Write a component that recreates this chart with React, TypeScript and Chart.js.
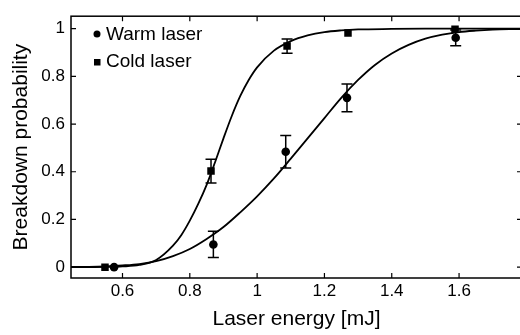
import { useEffect, useRef } from "react";
import { Chart, registerables } from "chart.js";

Chart.register(...registerables);

// Measured data points
const warmEnergy = [0.575, 0.87, 1.085, 1.267, 1.59];
const warmProb = [0, 0.095, 0.484, 0.71, 0.962];
const warmErr = [0, 0.055, 0.068, 0.058, 0.033];

const coldEnergy = [0.548, 0.863, 1.089, 1.27, 1.588];
const coldProb = [0, 0.403, 0.927, 0.982, 0.998];
const coldErr = [0, 0.05, 0.03, 0, 0];

// Fitted curves
const warmFitEnergy = [0.447, 0.5, 0.55, 0.6, 0.65, 0.7, 0.75, 0.8, 0.85, 0.9, 0.95, 1.0, 1.05, 1.1, 1.15, 1.2, 1.25, 1.3, 1.35, 1.4, 1.45, 1.5, 1.55, 1.6, 1.65, 1.7, 1.75, 1.8];
const warmFitProb = [0.0005, 0.001, 0.003, 0.007, 0.013, 0.025, 0.046, 0.076, 0.118, 0.168, 0.23, 0.297, 0.372, 0.455, 0.54, 0.625, 0.71, 0.785, 0.848, 0.896, 0.932, 0.958, 0.975, 0.986, 0.992, 0.996, 0.998, 0.999];

const coldFitEnergy = [0.447, 0.5, 0.55, 0.6, 0.65, 0.7, 0.75, 0.775, 0.8, 0.825, 0.85, 0.875, 0.9, 0.925, 0.95, 0.975, 1.0, 1.05, 1.1, 1.15, 1.2, 1.25, 1.3, 1.4, 1.5, 1.8];
const coldFitProb = [0, 0.0005, 0.001, 0.003, 0.009, 0.03, 0.09, 0.135, 0.195, 0.265, 0.345, 0.44, 0.54, 0.635, 0.718, 0.785, 0.838, 0.908, 0.948, 0.972, 0.986, 0.993, 0.997, 0.999, 1.0, 1.0];

const xTicks = [0.6, 0.8, 1, 1.2, 1.4, 1.6];
const yTicks = [0, 0.2, 0.4, 0.6, 0.8, 1];
const xMin = 0.447;
const xMax = 1.787;
const yMin = -0.0456;
const yMax = 1.0525;

const seriesLabels = ["Warm laser", "Cold laser"];
const xTitle = "Laser energy [mJ]";
const yTitle = "Breakdown probability";

const FONT = "'Liberation Sans', Arial, Helvetica, sans-serif";

const toPts = (xs: number[], ys: number[]) => xs.map((x, i) => ({ x, y: ys[i] }));

const framePlugin = {
  id: "frame",
  afterDraw(chart: any) {
    const { ctx, chartArea: a, scales } = chart;
    ctx.save();
    ctx.strokeStyle = "#000";
    ctx.lineWidth = 1.5;
    ctx.strokeRect(a.left, a.top, a.right - a.left, a.bottom - a.top);
    ctx.lineWidth = 1.2;
    const tl = 5;
    ctx.beginPath();
    for (const v of xTicks) {
      const px = scales.x.getPixelForValue(v);
      ctx.moveTo(px, a.bottom);
      ctx.lineTo(px, a.bottom - tl);
      ctx.moveTo(px, a.top);
      ctx.lineTo(px, a.top + tl);
    }
    for (const v of yTicks) {
      const py = scales.y.getPixelForValue(v);
      ctx.moveTo(a.left, py);
      ctx.lineTo(a.left + tl, py);
      ctx.moveTo(a.right, py);
      ctx.lineTo(a.right - tl, py);
    }
    ctx.stroke();
    ctx.restore();
  },
};

const errorBarPlugin = {
  id: "errbars",
  afterDatasetsDraw(chart: any) {
    const { ctx, scales } = chart;
    ctx.save();
    ctx.strokeStyle = "#000";
    ctx.lineWidth = 1.5;
    chart.data.datasets.forEach((ds: any) => {
      if (!ds.errors) return;
      ds.data.forEach((p: any, i: number) => {
        const e = ds.errors[i];
        if (!e) return;
        const px = scales.x.getPixelForValue(p.x);
        const pTop = scales.y.getPixelForValue(p.y + e);
        const pBot = scales.y.getPixelForValue(p.y - e);
        const cap = 5.5;
        ctx.beginPath();
        ctx.moveTo(px, pTop);
        ctx.lineTo(px, pBot);
        ctx.moveTo(px - cap, pTop);
        ctx.lineTo(px + cap, pTop);
        ctx.moveTo(px - cap, pBot);
        ctx.lineTo(px + cap, pBot);
        ctx.stroke();
      });
    });
    ctx.restore();
  },
};

const legendPlugin = {
  id: "insideLegend",
  afterDraw(chart: any) {
    const { ctx } = chart;
    ctx.save();
    ctx.fillStyle = "#000";
    ctx.font = `19px ${FONT}`;
    ctx.textBaseline = "middle";
    ctx.textAlign = "left";
    ctx.beginPath();
    ctx.arc(97, 34, 3.5, 0, Math.PI * 2);
    ctx.fill();
    ctx.fillText(seriesLabels[0], 106, 35);
    ctx.fillRect(94, 59, 6.5, 6.5);
    ctx.fillText(seriesLabels[1], 106, 62);
    ctx.restore();
  },
};

export default function App() {
  const ref = useRef<HTMLCanvasElement | null>(null);

  useEffect(() => {
    if (!ref.current) return;
    const chart = new Chart(ref.current, {
      type: "scatter",
      data: {
        datasets: [
          {
            type: "line",
            label: "Warm fit",
            data: toPts(warmFitEnergy, warmFitProb),
            borderColor: "#000",
            borderWidth: 1.8,
            pointRadius: 0,
            cubicInterpolationMode: "monotone",
            fill: false,
          } as any,
          {
            type: "line",
            label: "Cold fit",
            data: toPts(coldFitEnergy, coldFitProb),
            borderColor: "#000",
            borderWidth: 1.8,
            pointRadius: 0,
            cubicInterpolationMode: "monotone",
            fill: false,
          } as any,
          {
            label: seriesLabels[0],
            data: toPts(warmEnergy, warmProb),
            errors: warmErr,
            pointStyle: "circle",
            pointRadius: 4.3,
            backgroundColor: "#000",
            borderColor: "#000",
            borderWidth: 0,
          } as any,
          {
            label: seriesLabels[1],
            data: toPts(coldEnergy, coldProb),
            errors: coldErr,
            pointStyle: "rect",
            pointRadius: 5.3,
            backgroundColor: "#000",
            borderColor: "#000",
            borderWidth: 0,
          } as any,
        ],
      },
      options: {
        animation: false,
        responsive: false,
        events: [],
        layout: { padding: { top: 6, right: 8, left: 0, bottom: 0 } },
        plugins: {
          legend: { display: false },
          tooltip: { enabled: false },
        },
        scales: {
          x: {
            type: "linear",
            min: xMin,
            max: xMax,
            grid: { display: false, drawTicks: false },
            border: { display: false },
            afterBuildTicks: (s: any) => {
              s.ticks = xTicks.map((v) => ({ value: v }));
            },
            afterFit: (s: any) => {
              s.height = 57;
            },
            ticks: {
              color: "#000",
              padding: 3,
              maxRotation: 0,
              autoSkip: false,
              font: { family: FONT, size: 17 },
              callback: (v: any) => String(Number(v)),
            },
            title: {
              display: true,
              text: xTitle,
              color: "#000",
              font: { family: FONT, size: 21 },
              padding: { top: 0, bottom: 3 },
            },
          },
          y: {
            type: "linear",
            min: yMin,
            max: yMax,
            grid: { display: false, drawTicks: false },
            border: { display: false },
            afterBuildTicks: (s: any) => {
              s.ticks = yTicks.map((v) => ({ value: v }));
            },
            afterFit: (s: any) => {
              s.width = 71;
            },
            ticks: {
              color: "#000",
              padding: 6,
              autoSkip: false,
              font: { family: FONT, size: 17 },
              callback: (v: any) => String(Number(v)),
            },
            title: {
              display: true,
              text: yTitle,
              color: "#000",
              font: { family: FONT, size: 21 },
              padding: { top: 9, bottom: 0 },
            },
          },
        },
      },
      plugins: [framePlugin, errorBarPlugin, legendPlugin],
    });
    return () => chart.destroy();
  }, []);

  return (
    <div
      style={{
        position: "fixed",
        left: 0,
        top: 0,
        width: 520,
        height: 335,
        overflow: "hidden",
        background: "#fff",
      }}
    >
      <canvas ref={ref} width={530} height={335} style={{ display: "block" }} />
    </div>
  );
}
